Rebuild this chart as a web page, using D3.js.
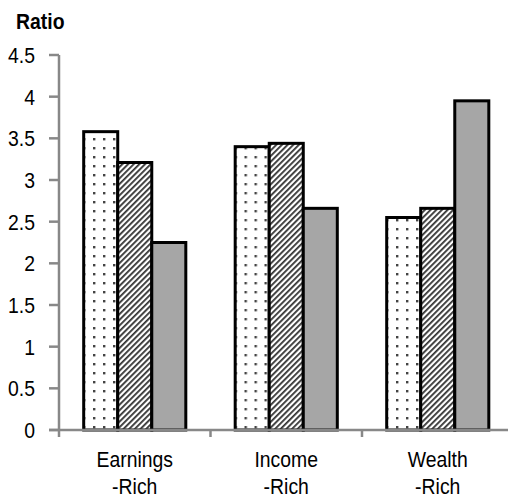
<!DOCTYPE html>
<html lang="en">
<head>
<meta charset="UTF-8">
<title>Ratio bars</title>
<script src="https://d3js.org/d3.v7.min.js"></script>
<style>
    body { margin: 0; background: #fff; }
    text { font-family: "Liberation Sans", Arial, sans-serif; fill: #000; }
</style>
</head>
<body>
<svg id="chart" width="508" height="499"></svg>
<script>
    // data
    const categories = ["Earnings\n-Rich", "Income\n-Rich", "Wealth\n-Rich"];
    const seriesNames = ["dots", "hatch", "solid"];
    const dotsValues  = [3.58, 3.40, 2.55];
    const hatchValues = [3.21, 3.44, 2.66];
    const solidValues = [2.25, 2.66, 3.95];
    const yTicks = [0, 0.5, 1, 1.5, 2, 2.5, 3, 3.5, 4, 4.5];

    const svg = d3.select("#chart");
    const axisX = 59, plotTop = 55, plotBottom = 430;
    const stretch = "scale(0.97,1.13)";  // text in the original is a bit taller than wide

    // patterns
    const defs = svg.append("defs");
    const dot = defs.append("pattern")
        .attr("id", "dots").attr("patternUnits", "userSpaceOnUse")
        .attr("width", 10).attr("height", 9);
    dot.append("rect").attr("width", 10).attr("height", 9).attr("fill", "#fff");
    dot.append("rect").attr("x", 4).attr("y", 3).attr("width", 2.4).attr("height", 2.4).attr("fill", "#444");

    const hatch = defs.append("pattern")
        .attr("id", "hatch").attr("patternUnits", "userSpaceOnUse")
        .attr("width", 4).attr("height", 4)
        .attr("patternTransform", "rotate(45)");
    hatch.append("rect").attr("width", 4).attr("height", 4).attr("fill", "#fff");
    hatch.append("rect").attr("x", 0).attr("width", 1.8).attr("height", 4).attr("fill", "#333");

    const fills = { dots: "url(#dots)", hatch: "url(#hatch)", solid: "#a6a6a6" };

    const y = d3.scaleLinear().domain([0, 4.5]).range([plotBottom, plotTop]);
    const x0 = d3.scaleBand().domain(categories).range([axisX, axisX + 151.5 * 3]).padding(0);
    const gap = x0.bandwidth() * 0.163;
    const x1 = d3.scaleBand().domain(seriesNames).range([gap, x0.bandwidth() - gap]).padding(0);

    const rows = categories.map((c, i) => ({
        cat: c,
        vals: [
            { s: "dots", v: dotsValues[i] },
            { s: "hatch", v: hatchValues[i] },
            { s: "solid", v: solidValues[i] }
        ]
    }));

    // bars
    const groups = svg.append("g").selectAll("g")
        .data(rows).enter().append("g")
        .attr("transform", d => `translate(${x0(d.cat)},0)`);

    groups.selectAll("rect")
        .data(d => d.vals).enter().append("rect")
        .attr("x", d => x1(d.s))
        .attr("y", d => y(d.v))
        .attr("width", x1.bandwidth())
        .attr("height", d => plotBottom - y(d.v))
        .attr("fill", d => fills[d.s])
        .attr("stroke", "#000")
        .attr("stroke-width", 3);

    // y axis
    const yAxis = svg.append("g");
    yAxis.append("line")
        .attr("x1", axisX).attr("x2", axisX)
        .attr("y1", plotTop).attr("y2", plotBottom)
        .attr("stroke", "#888").attr("stroke-width", 2.5);
    yAxis.selectAll(".tick").data(yTicks).enter().append("line")
        .attr("x1", axisX - 10).attr("x2", axisX)
        .attr("y1", d => y(d)).attr("y2", d => y(d))
        .attr("stroke", "#888").attr("stroke-width", 2.5);
    yAxis.selectAll(".lbl").data(yTicks).enter().append("text")
        .attr("transform", d => `translate(35,${y(d) + 8}) ${stretch}`)
        .attr("text-anchor", "end")
        .attr("font-size", 20)
        .text(d => d);

    // x axis
    const xAxis = svg.append("g");
    xAxis.append("line")
        .attr("x1", axisX - 10).attr("x2", 508)
        .attr("y1", plotBottom).attr("y2", plotBottom)
        .attr("stroke", "#888").attr("stroke-width", 2.5);
    xAxis.selectAll(".tick").data(categories).enter().append("line")
        .attr("x1", d => x0(d)).attr("x2", d => x0(d))
        .attr("y1", plotBottom).attr("y2", plotBottom + 7)
        .attr("stroke", "#888").attr("stroke-width", 2.5);
    const xl = xAxis.selectAll(".lbl").data(categories).enter().append("text")
        .attr("text-anchor", "middle")
        .attr("font-size", 20)
        .attr("transform", d => `translate(${x0(d) + x0.bandwidth() / 2},${plotBottom + 37}) ${stretch}`);
    xl.selectAll("tspan").data(d => d.split("\n")).enter().append("tspan")
        .attr("x", 0).attr("y", (d, i) => i * 24)
        .text(d => d);

    // title
    svg.append("text")
        .attr("transform", `translate(16,29) ${stretch}`)
        .attr("font-size", 20).attr("font-weight", "bold")
        .text("Ratio");
</script>
</body>
</html>
